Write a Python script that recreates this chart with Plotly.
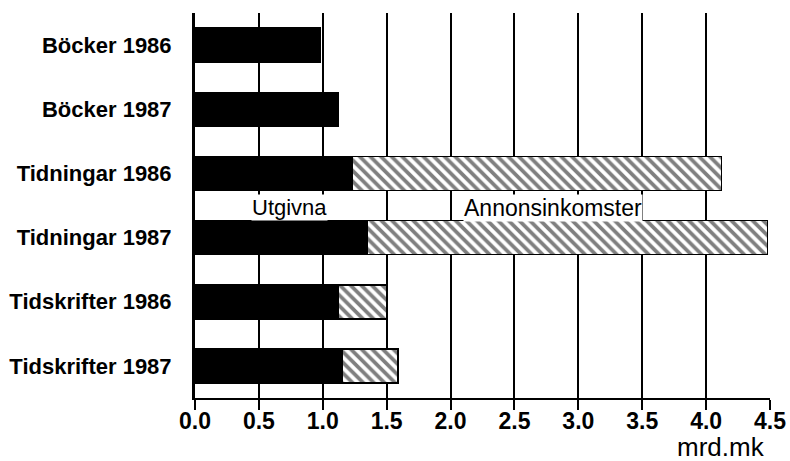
import plotly.graph_objects as go

categories = ["Böcker 1986", "Böcker 1987", "Tidningar 1986", "Tidningar 1987",
              "Tidskrifter 1986", "Tidskrifter 1987"]
utgivna = [0.98, 1.12, 1.23, 1.35, 1.12, 1.15]
annonsinkomster = [None, None, 2.89, 3.13, 0.38, 0.44]
x_ticks = [0.0, 0.5, 1.0, 1.5, 2.0, 2.5, 3.0, 3.5, 4.0, 4.5]
x_tick_labels = ["0.0", "0.5", "1.0", "1.5", "2.0", "2.5", "3.0", "3.5", "4.0", "4.5"]
series_names = ["Utgivna", "Annonsinkomster"]
unit_label = "mrd.mk"

FONT = "Liberation Sans, Arial, Helvetica, sans-serif"

fig = go.Figure()
fig.add_trace(go.Bar(
    y=categories, x=utgivna, orientation="h", name=series_names[0],
    marker=dict(color="black", line=dict(color="black", width=1.5)),
    width=0.53,
))
fig.add_trace(go.Bar(
    y=categories, x=annonsinkomster, orientation="h", name=series_names[1],
    marker=dict(color="white", line=dict(color="black", width=1.5),
                pattern=dict(shape="\\", fgcolor="black", bgcolor="white",
                             size=7.5, solidity=0.5)),
    width=0.53,
))

fig.add_annotation(x=0.74, y=2.5, xref="x", yref="y", text=series_names[0],
                   showarrow=False, bgcolor="white", borderpad=0,
                   font=dict(family=FONT, size=22, color="black"), yshift=-2)
fig.add_annotation(x=2.80, y=2.5, xref="x", yref="y", text=series_names[1],
                   showarrow=False, bgcolor="white", borderpad=0,
                   font=dict(family=FONT, size=23, color="black"), yshift=-2)
fig.add_annotation(x=1, y=-0.128, xref="paper", yref="paper", text=unit_label,
                   showarrow=False, xanchor="right", yanchor="middle", xshift=-3,
                   font=dict(family=FONT, size=26, color="black"))

fig.update_layout(
    width=790, height=461,
    margin=dict(l=195, r=20, t=13, b=63, autoexpand=False),
    barmode="stack",
    showlegend=False,
    plot_bgcolor="white", paper_bgcolor="white",
    xaxis=dict(
        range=[0, 4.5], tickvals=x_ticks, ticktext=x_tick_labels,
        showgrid=True, gridcolor="black", gridwidth=2,
        zeroline=False, showline=True, linecolor="black", linewidth=2,
        ticks="outside", ticklen=10, tickwidth=2, tickcolor="black",
        automargin=False, ticklabelstandoff=-9,
        tickfont=dict(family=FONT, size=23, color="black", weight="bold"),
    ),
    yaxis=dict(
        autorange="reversed", showgrid=False, zeroline=False,
        showline=True, linecolor="black", linewidth=3,
        ticks="", ticklabelstandoff=16, automargin=False,
        tickfont=dict(family=FONT, size=22, color="black", weight="bold"),
    ),
)

fig.write_html("out.html", config={"displayModeBar": False},
               post_script="document.body.style.margin='0px';document.body.style.overflow='hidden';")
